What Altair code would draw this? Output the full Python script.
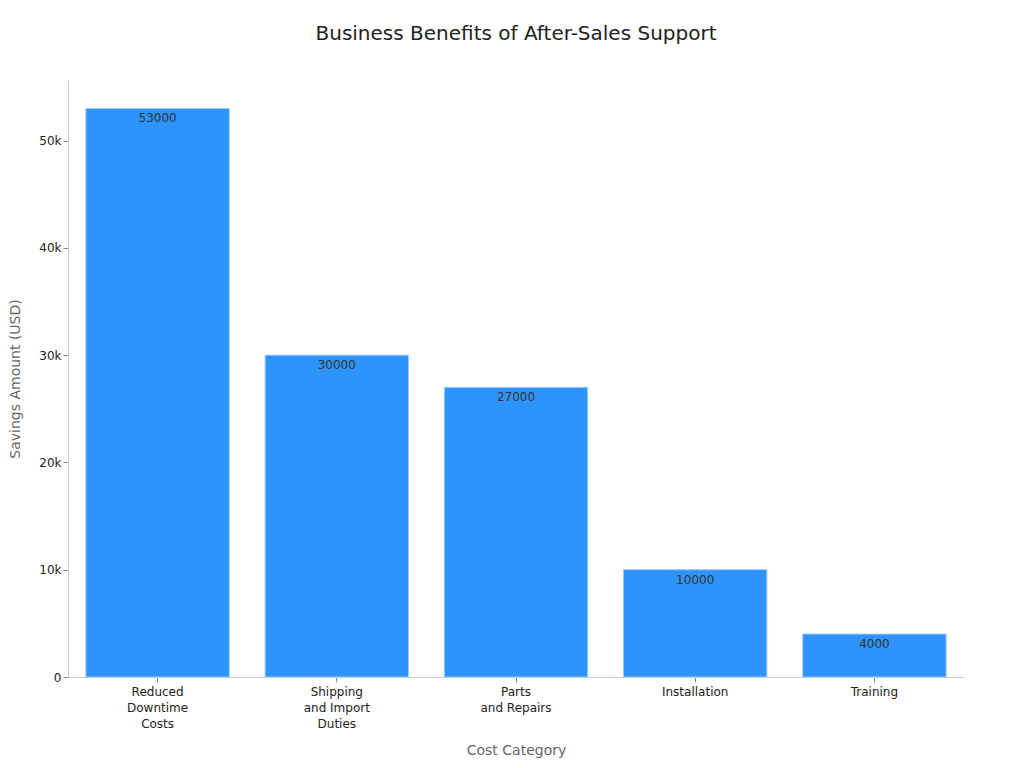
import altair as alt
import pandas as pd

categories = ["Reduced\nDowntime\nCosts", "Shipping\nand Import\nDuties", "Parts\nand Repairs", "Installation", "Training"]
savings = [53000, 30000, 27000, 10000, 4000]

df = pd.DataFrame({"category": categories, "savings": savings})

base = alt.Chart(df).encode(
    x=alt.X("category:N", sort=categories, title="Cost Category",
            scale=alt.Scale(paddingInner=0.2, paddingOuter=0.1),
            axis=alt.Axis(labelAngle=0, labelExpr="split(datum.label, '\\n')",
                          labelFontSize=12, labelColor="#222", labelLineHeight=16,
                          titleFontSize=14,
                          titleColor="#666", titleFontWeight="normal", titlePadding=14,
                          domainColor="#ccc", tickColor="#888", labelPadding=4,
                          labelFont="DejaVu Sans", titleFont="DejaVu Sans")),
    y=alt.Y("savings:Q", title="Savings Amount (USD)",
            scale=alt.Scale(domain=[0, 55650], nice=False),
            axis=alt.Axis(grid=False, values=[0, 10000, 20000, 30000, 40000, 50000],
                          labelExpr="datum.value == 0 ? '0' : format(datum.value, '~s')",
                          labelFontSize=12, labelColor="#222", titleFontSize=14,
                          titleColor="#666", titleFontWeight="normal", titlePadding=16,
                          domainColor="#ccc", tickColor="#888",
                          labelFont="DejaVu Sans", titleFont="DejaVu Sans")),
)

bars = base.mark_bar(color="#2E93FA", stroke="#9cc9f7", strokeWidth=1)
labels = base.mark_text(baseline="top", dy=5, fontSize=12, color="#333", font="DejaVu Sans").encode(
    text=alt.Text("savings:Q"))

chart = (bars + labels).properties(
    width=896, height=597,
    padding={"left": 0, "top": 16, "right": 5, "bottom": 5},
    title=alt.TitleParams("Business Benefits of After-Sales Support", fontSize=20,
                          font="DejaVu Sans", fontWeight="normal", color="#222", offset=36),
).configure_view(stroke=None)

chart.save("out.html", embed_options={"renderer": "svg", "actions": False})
